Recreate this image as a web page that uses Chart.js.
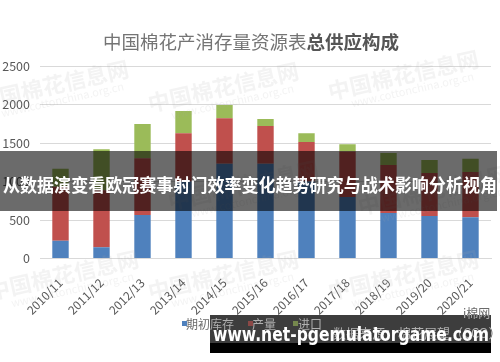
<!DOCTYPE html>
<html>
<head>
<meta charset="utf-8">
<script src="https://cdn.jsdelivr.net/npm/chart.js@4.4.0/dist/chart.umd.min.js"></script>
<style>
html,body{margin:0;padding:0;background:#fff;}
canvas{display:block;}
</style>
</head>
<body>
<canvas id="c" width="500" height="362" style="width:500px;height:362px"></canvas>
<script>
const categories = ['2010/11','2011/12','2012/13','2013/14','2014/15','2015/16','2016/17','2017/18','2018/19','2019/20','2020/21'];
const beginningStock = [231,145,565,1000,1230,1230,1000,800,590,552,535];
const production = [700,740,736,626,591,491,512,590,624,558,588];
const imports = [235,533,446,290,173,91,114,93,156,170,173];
const yTicks = [0,500,1000,1500,2000,2500];
const seriesNames = ['期初库存','产量','进口'];
const titleNormal = '中国棉花产消存量资源表';
const titleBold = '总供应构成';
const bandText = '从数据演变看欧冠赛事射门效率变化趋势研究与战术影响分析视角';
const bannerText = 'www.net-pgemulatorgame.com';
const sourceText = '数据来源：棉花展望（CCO）';

const FONT = '"Noto Sans CJK SC", "Noto Sans", sans-serif';
const colors = ['#4F81BD','#C0504D','#9BBB59'];

Chart.defaults.font.family = FONT;
Chart.defaults.color = '#595959';

function drawFooterTexts(ctx, textColor, squareAlpha) {
  ctx.font = '12px ' + FONT;
  ctx.textBaseline = 'middle';
  const leg = [[182,186],[248,252],[293,298]];
  leg.forEach(([sx,tx], i) => {
    ctx.globalAlpha = squareAlpha;
    ctx.fillStyle = colors[i];
    ctx.fillRect(sx, 321, 5, 5);
    ctx.globalAlpha = 1;
    ctx.fillStyle = textColor;
    ctx.fillText(seriesNames[i], tx, 324);
  });
  ctx.font = '13px ' + FONT;
  ctx.fillText(sourceText, 333, 333);
  ctx.font = '12px ' + FONT;
  ctx.fillText('i棉网', 463, 313);
}

const overlay = {
  id: 'overlay',
  afterDatasetsDraw(chart) {
    const ctx = chart.ctx;
    ctx.save();
    ctx.fillStyle = 'rgba(170,170,170,0.14)';
    const marks = [[-20,110],[150,112],[330,100],[-10,300],[150,300],[330,300],[170,210],[360,215]];
    marks.forEach(([x,y]) => {
      ctx.save();
      ctx.translate(x, y);
      ctx.rotate(-0.22);
      ctx.font = 'bold 22px ' + FONT;
      ctx.fillText('中国棉花信息网', 0, 0);
      ctx.font = '11px ' + FONT;
      ctx.fillText('www.cottonchina.org.cn', 20, 12);
      ctx.restore();
    });
    ctx.restore();
  },
  afterDraw(chart) {
    const ctx = chart.ctx;
    ctx.save();
    ctx.font = '18.5px ' + FONT;
    const w1 = ctx.measureText(titleNormal).width;
    ctx.font = 'bold 18.5px ' + FONT;
    const w2 = ctx.measureText(titleBold).width;
    let x0 = 251 - (w1 + w2) / 2;
    ctx.textBaseline = 'middle';
    ctx.font = '18.5px ' + FONT;
    ctx.fillStyle = '#747474';
    ctx.fillText(titleNormal, x0, 42);
    ctx.font = 'bold 18.5px ' + FONT;
    ctx.fillStyle = '#555';
    ctx.fillText(titleBold, x0 + w1, 42);

    drawFooterTexts(ctx, '#6a6a6a', 1);

    ctx.fillStyle = 'rgba(0,0,0,0.58)';
    ctx.fillRect(0, 151, 497, 60);
    ctx.fillStyle = '#fff';
    ctx.font = 'bold 18px ' + FONT;
    ctx.textBaseline = 'middle';
    ctx.textAlign = 'left';
    ctx.fillText(bandText, 3, 185, 494);

    ctx.fillStyle = '#3d3d3d';
    ctx.fillRect(210, 315, 281, 28);
    ctx.save();
    ctx.beginPath();
    ctx.rect(210, 315, 281, 28);
    ctx.clip();
    drawFooterTexts(ctx, '#b0b0b0', 0.6);
    ctx.restore();
    ctx.fillStyle = '#000';
    ctx.fillRect(210, 343, 281, 10);
    ctx.fillStyle = '#fff';
    ctx.font = 'bold 19px "DejaVu Sans", sans-serif';
    ctx.textBaseline = 'alphabetic';
    ctx.fillText(bannerText, 213, 341, 276);
    ctx.restore();
  }
};

new Chart(document.getElementById('c'), {
  type: 'bar',
  data: {
    labels: categories,
    datasets: [
      { label: seriesNames[0], data: beginningStock, backgroundColor: colors[0] },
      { label: seriesNames[1], data: production, backgroundColor: colors[1] },
      { label: seriesNames[2], data: imports, backgroundColor: colors[2] }
    ]
  },
  options: {
    responsive: false,
    animation: false,
    layout: { padding: { top: 66, right: 9, left: 0, bottom: 0 } },
    plugins: { legend: { display: false }, title: { display: false }, tooltip: { enabled: false } },
    datasets: { bar: { categoryPercentage: 1, barPercentage: 0.4 } },
    scales: {
      x: {
        stacked: true,
        grid: { display: false },
        border: { display: true, color: '#d9d9d9' },
        ticks: { maxRotation: 45, minRotation: 45, font: { size: 12 }, color: '#595959', padding: 9 },
        afterFit(s) { s.height = 103.5; }
      },
      y: {
        stacked: true,
        min: 0, max: 2500,
        afterBuildTicks(s) { s.ticks = yTicks.map(v => ({ value: v })); },
        grid: { color: '#d9d9d9', drawTicks: false },
        border: { display: false },
        ticks: { font: { size: 12.5 }, color: '#595959', padding: 10, callback: v => String(v) },
        afterFit(s) { s.width = 40; }
      }
    }
  },
  plugins: [overlay]
});
</script>
</body>
</html>
